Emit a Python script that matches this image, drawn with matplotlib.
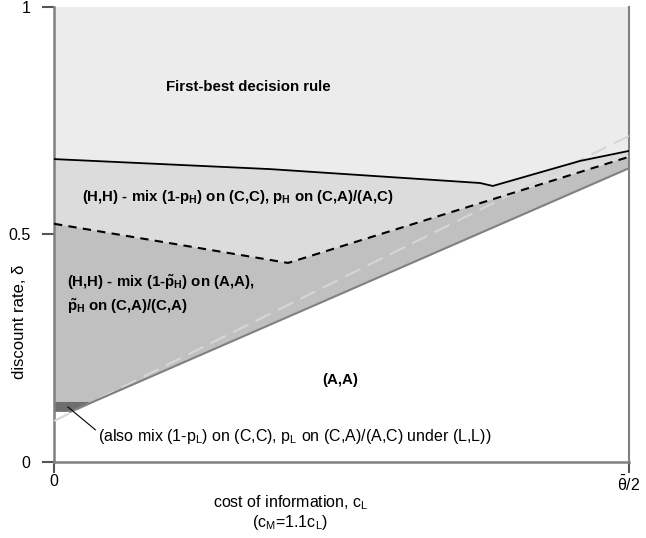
"""Region map: discount rate vs cost of information (cM = 1.1 cL)."""
import matplotlib
matplotlib.use("Agg")
import matplotlib.pyplot as plt

plt.rcParams["font.family"] = ["Liberation Sans", "DejaVu Sans"]
plt.rcParams["mathtext.fontset"] = "custom"
plt.rcParams["mathtext.rm"] = "Liberation Sans"
plt.rcParams["mathtext.it"] = "Liberation Sans:italic"
plt.rcParams["mathtext.bf"] = "Liberation Sans:bold"

# boundaries (x = c_L scaled so that theta_bar/2 = 1)
solid_x = [0.0, 0.376, 0.741, 0.763, 0.915, 1.0]          # first-best / (H,H) C,C
solid_y = [0.665, 0.643, 0.6125, 0.606, 0.661, 0.683]
dashed_x = [0.0, 0.407, 1.0]                               # C,C mix / A,A mix
dashed_y = [0.523, 0.437, 0.670]
aa_x = [0.0, 0.068, 1.0]                                   # lower edge of mid-grey region
aa_y = [0.132, 0.132, 0.645]
aa_line_x = [0.028, 1.0]
aa_line_y = [0.110, 0.645]
patch_x = [0.0, 0.028, 0.068, 0.0]                         # (L,L) mix patch
patch_y = [0.110, 0.110, 0.132, 0.132]
light_x = [0.0, 1.0]                                       # faint reference line
light_y = [0.090, 0.716]

xticks = [0, 1]
xticklabels = ["0", r"$\bar{\mathrm{\theta}}$/2"]
yticks = [0, 0.5, 1]
yticklabels = ["0", "0.5", "1"]

fig = plt.figure(figsize=(6.46, 5.38), dpi=100)
ax = fig.add_axes([0.0836, 0.1413, 0.8901, 0.8466])
ax.set_xlim(0, 1); ax.set_ylim(0, 1)

# filled regions (polygons built from the boundary lists)
ax.fill(solid_x + [1, 0], solid_y + [1, 1], color="#ececec", lw=0, zorder=1)
ax.fill(solid_x + dashed_x[::-1], solid_y + dashed_y[::-1], color="#dcdcdc", lw=0, zorder=1)
ax.fill(dashed_x + aa_x[::-1], dashed_y + aa_y[::-1], color="#c0c0c0", lw=0, zorder=1)
ax.fill(patch_x, patch_y, color="#6e6e6e", lw=0, zorder=2)

ax.plot(light_x, light_y, color="#d6d6d6", lw=1.5, ls=(0, (8, 4)), zorder=3)
ax.plot(aa_line_x, aa_line_y, color="#808080", lw=1.5, zorder=3)
ax.plot(dashed_x, dashed_y, color="black", lw=1.5, ls=(0, (4, 3)), zorder=4)
ax.plot(solid_x, solid_y, color="black", lw=1.3, zorder=4)

bold = dict(fontsize=10.8, fontweight="bold", va="center", ha="left")
ax.text(0.195, 0.823, "First-best decision rule", **bold)
ax.text(0.049, 0.582, r"(H,H) - mix (1-p$_\mathbf{H}$) on (C,C), p$_\mathbf{H}$ on (C,A)/(A,C)", **bold)
ax.text(0.023, 0.368, "(H,H) - mix (1-$\\mathbf{\\tilde{p}}_\\mathbf{H}$) on (A,A),\n"
        "$\\mathbf{\\tilde{p}}_\\mathbf{H}$ on (C,A)/(C,A)", linespacing=1.3, **bold)
ax.text(0.497, 0.18, "(A,A)", fontsize=10.8, fontweight="bold", ha="center", va="center")

ax.annotate(r"(also mix (1-p$_\mathrm{L}$) on (C,C), p$_\mathrm{L}$ on (C,A)/(A,C) under (L,L))",
            xy=(0.024, 0.121), xytext=(0.077, 0.057), fontsize=11.5, va="center",
            arrowprops=dict(arrowstyle="-", color="black", lw=0.8, relpos=(0, 0.7),
                            shrinkA=0, shrinkB=0))

for s in ["left", "bottom", "right"]:
    ax.spines[s].set_color("#808080"); ax.spines[s].set_linewidth(1.8)
ax.spines["top"].set_visible(False)
ax.spines["right"].set_linewidth(1.5)
ax.set_xticks(xticks); ax.set_xticklabels(xticklabels)
ax.set_yticks(yticks); ax.set_yticklabels(yticklabels)
ax.tick_params(axis="both", direction="out", length=9, width=1.5, color="#555555",
               labelsize=11.5)
ax.tick_params(axis="y", pad=8)
ax.tick_params(axis="x", pad=1, length=8)

fig.text(20 / 646, 1 - 322 / 538, "discount rate, δ", rotation=90, fontsize=12,
         ha="center", va="center")
fig.text(291 / 646, 1 - 503 / 538, r"cost of information, c$_\mathrm{L}$", fontsize=11.5,
         ha="center", va="center")
fig.text(290 / 646, 1 - 523 / 538, r"(c$_\mathrm{M}$=1.1c$_\mathrm{L}$)", fontsize=11.5,
         ha="center", va="center")

fig.savefig("out.png", dpi=100)
